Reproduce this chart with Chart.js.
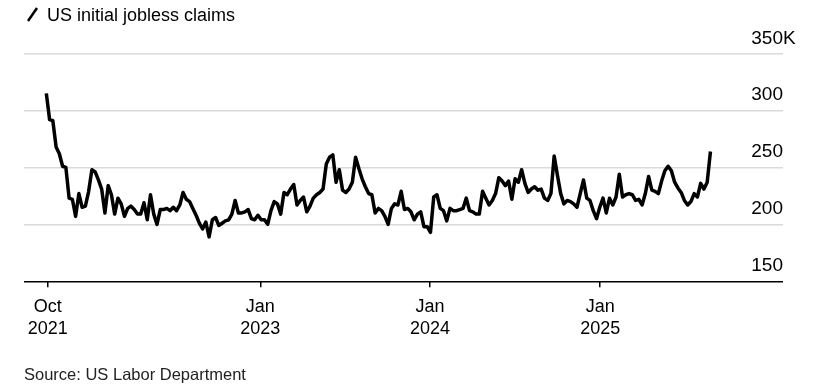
<!DOCTYPE html>
<html lang="en">
<head>
    <meta charset="UTF-8">
    <title>US initial jobless claims</title>
    <style>
        html, body {
            margin: 0;
            padding: 0;
            background: #fff;
        }
        canvas {
            display: block;
        }
    </style>
</head>
<body>
    <canvas id="claimsChart" width="825" height="390"></canvas>

    <script src="https://cdn.jsdelivr.net/npm/chart.js"></script>
    <script>
        // weekly initial claims, thousands, first week ending late Sep 2021
        const WEEK = 7 * 86400000;
        const firstWeek = Date.UTC(2021, 8, 28);
        const claims = [
            315, 292, 291, 268, 262, 251, 250, 223, 222, 207, 227, 215, 216, 229, 248, 246, 239, 231, 210, 234,
            226, 209, 223, 218, 207, 214, 216, 213, 209, 209, 219, 204, 226, 209, 200, 213, 213, 214, 212, 215,
            212, 217, 228, 222, 220, 214, 208, 201, 196, 202, 189, 204, 206, 199, 201, 203, 204, 209, 221, 210,
            210, 211, 213, 205, 204, 208, 204, 204, 200, 212, 220, 218, 209, 228, 226, 231, 235, 217, 221, 224,
            211, 216, 223, 226, 228, 231, 253, 259, 261, 237, 248, 230, 228, 231, 237, 259, 249, 240, 233, 227,
            226, 210, 214, 212, 207, 200, 214, 218, 217, 229, 213, 214, 211, 204, 209, 211, 198, 198, 193, 224,
            226, 214, 212, 203, 214, 212, 212, 213, 214, 223, 212, 211, 209, 209, 229, 223, 217, 221, 227, 241,
            238, 234, 238, 222, 240, 237, 248, 236, 228, 231, 233, 230, 231, 223, 221, 227, 260, 243, 227, 218,
            221, 220, 218, 215, 227, 239, 223, 221, 212, 205, 215, 223, 210, 223, 217, 224, 244, 224, 226, 227,
            226, 221, 222, 217, 227, 242, 230, 229, 227, 238, 247, 251, 247, 237, 232, 228, 221, 217, 220, 227,
            224, 236, 231, 237, 264
        ];

        const xMin = Date.UTC(2021, 7, 11);
        const xMax = Date.UTC(2026, 0, 29);
        const xTickDates = [Date.UTC(2021, 9, 1), Date.UTC(2023, 0, 1), Date.UTC(2024, 0, 1), Date.UTC(2025, 0, 1)];
        const xTickLabels = [['Oct', '2021'], ['Jan', '2023'], ['Jan', '2024'], ['Jan', '2025']];

        const yTicks = [150, 200, 250, 300, 350];
        const yTickLabels = ['150', '200', '250', '300', '350'];
        const yUnit = 'K';

        const chartTitle = 'US initial jobless claims';
        const sourceNote = 'Source: US Labor Department';

        const FONT = '"Liberation Sans", Arial, Helvetica, sans-serif';

        const points = claims.map((v, i) => ({ x: firstWeek + i * WEEK, y: v }));

        // title, legend stroke, source and y labels above the gridlines
        const annotations = {
            id: 'annotations',
            afterDraw(chart) {
                const ctx = chart.ctx;
                const area = chart.chartArea;
                const y = chart.scales.y;
                ctx.save();

                ctx.strokeStyle = '#000';
                ctx.lineWidth = 2.5;
                ctx.beginPath();
                ctx.moveTo(28, 21);
                ctx.lineTo(37, 8);
                ctx.stroke();

                ctx.fillStyle = '#000';
                ctx.textBaseline = 'alphabetic';
                ctx.textAlign = 'left';
                ctx.font = '18px ' + FONT;
                ctx.fillText(chartTitle, 47, 21);

                ctx.font = '16.5px ' + FONT;
                ctx.fillStyle = '#222';
                ctx.fillText(sourceNote, 24, 380);

                ctx.fillStyle = '#000';
                ctx.font = '19px ' + FONT;
                yTicks.forEach((v, i) => {
                    const py = y.getPixelForValue(v) - 10;
                    ctx.textAlign = 'right';
                    ctx.fillText(yTickLabels[i], area.right, py);
                    if (i === yTicks.length - 1) {
                        ctx.textAlign = 'left';
                        ctx.fillText(yUnit, area.right, py);
                    }
                });
                ctx.restore();
            }
        };

        new Chart(document.getElementById('claimsChart'), {
            type: 'line',
            data: {
                datasets: [{
                    label: chartTitle,
                    data: points,
                    borderColor: '#000',
                    borderWidth: 3.5,
                    pointRadius: 0,
                    tension: 0,
                    borderJoinStyle: 'round',
                    fill: false
                }]
            },
            options: {
                responsive: false,
                animation: false,
                layout: {
                    padding: { left: 24, right: 42, top: 53.5, bottom: 41.5 }
                },
                plugins: {
                    legend: { display: false },
                    tooltip: { enabled: false }
                },
                scales: {
                    x: {
                        type: 'linear',
                        min: xMin,
                        max: xMax,
                        afterBuildTicks: (axis) => {
                            axis.ticks = xTickDates.map(v => ({ value: v }));
                        },
                        ticks: {
                            autoSkip: false,
                            maxRotation: 0,
                            padding: 9,
                            color: '#000',
                            font: { family: FONT, size: 18 },
                            callback: (value, index) => xTickLabels[index]
                        },
                        grid: {
                            drawOnChartArea: false,
                            drawTicks: true,
                            tickLength: 6,
                            tickColor: '#000',
                            lineWidth: 1.5
                        },
                        border: { display: false }
                    },
                    y: {
                        min: 150,
                        max: 350,
                        afterBuildTicks: (axis) => {
                            axis.ticks = yTicks.map(v => ({ value: v }));
                        },
                        ticks: { display: false },
                        grid: {
                            drawTicks: false,
                            lineWidth: 1.5,
                            color: (c) => c.tick && c.tick.value === 150 ? '#000' : '#dadada'
                        },
                        border: { display: false }
                    }
                }
            },
            plugins: [annotations]
        });
    </script>
</body>
</html>
